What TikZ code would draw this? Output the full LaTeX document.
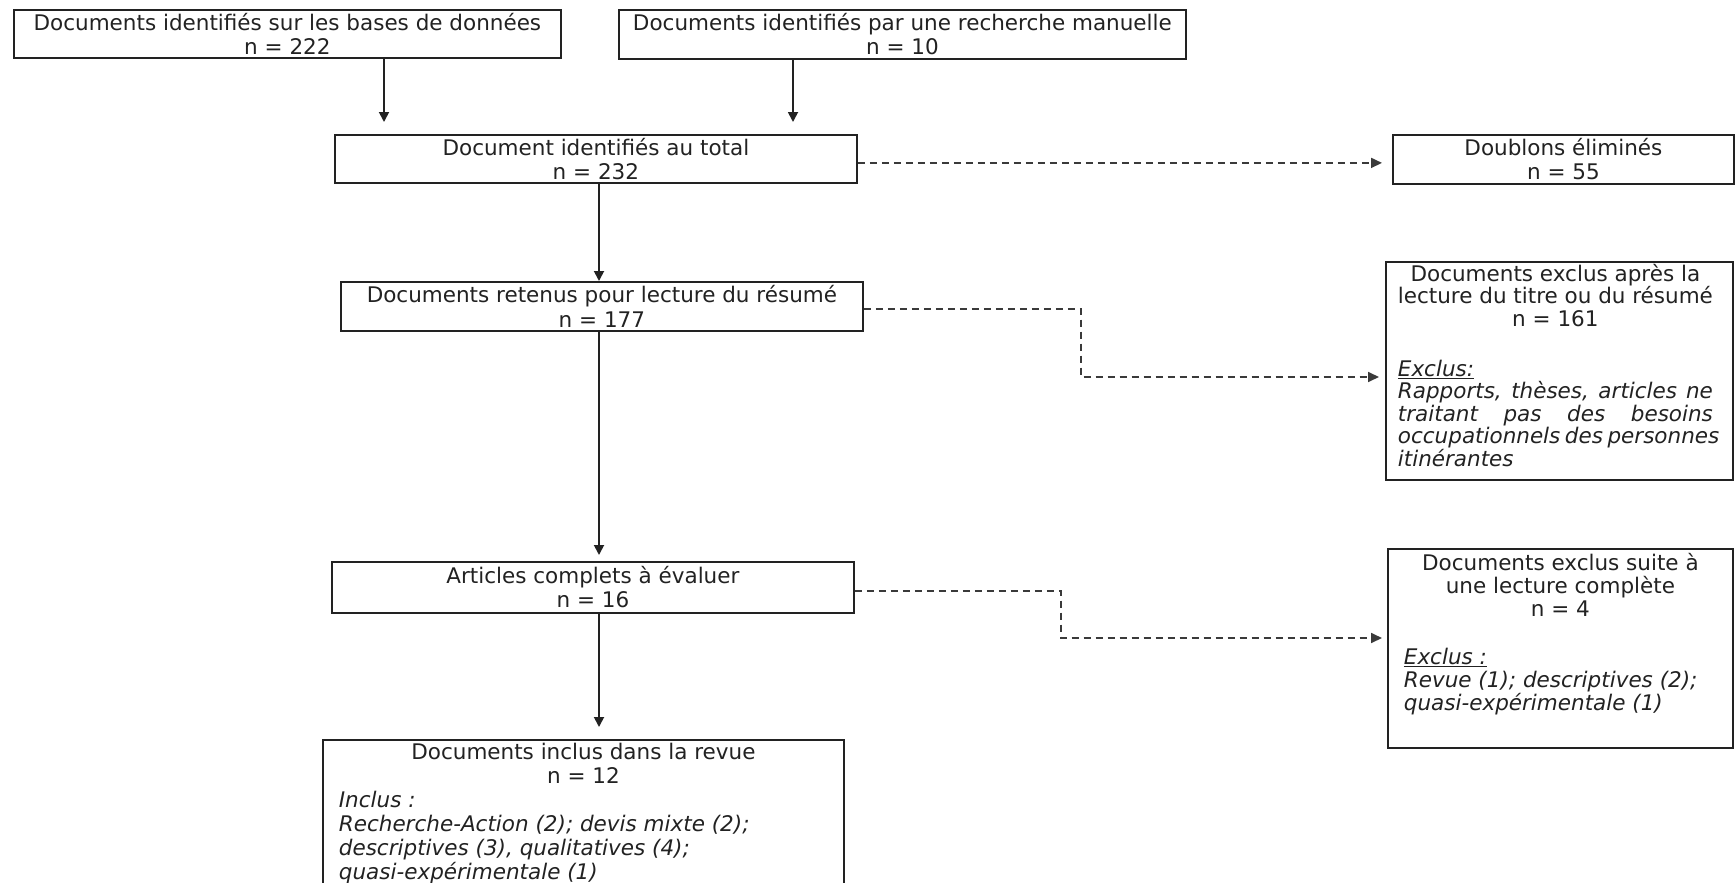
\documentclass[tikz,border=0pt]{standalone}
\usepackage{fontspec}
\setmainfont{DejaVu Sans}
\usetikzlibrary{arrows.meta,calc}
\definecolor{ink}{HTML}{222222}
\definecolor{dashc}{HTML}{3A3A3A}
\tikzset{
  box/.style={draw=ink, line width=1.8pt, rectangle, inner sep=0pt, text=ink, anchor=north west,
              font=\fontsize{21.5pt}{24pt}\selectfont},
  arr/.style={draw=ink, line width=1.8pt, -{Triangle[length=10pt,width=10pt]}},
  darr/.style={draw=dashc, line width=1.7pt, dash pattern=on 7pt off 5pt, -{Triangle[length=11pt,width=10pt]}}
}
\begin{document}
\begin{tikzpicture}[x=1pt,y=-1pt]
\fill[white] (0,0) rectangle (1735,883);
\useasboundingbox (0,0) rectangle (1735,883);

% left column
\node[box] (src1) at (13,9) {\parbox[c][48pt][c]{547pt}{\centering Documents identifiés sur les bases de données\\ n = 222}};
\node[box] (src2) at (618,9) {\parbox[c][49pt][c]{567pt}{\centering Documents identifiés par une recherche manuelle\\ n = 10}};
\node[box] (tot) at (334,134) {\parbox[c][48pt][c]{522pt}{\centering Document identifiés au total\\ n = 232}};
\node[box] (ret) at (340,281) {\parbox[c][49pt][c]{522pt}{\centering\baselineskip=25pt Documents retenus pour lecture du résumé\\ n = 177}};
\node[box] (art) at (331,561) {\parbox[c][51pt][c]{522pt}{\centering Articles complets à évaluer\\ n = 16}};
\node[box] (incl) at (322,739) {\parbox[c][150pt][t]{521pt}{\vspace*{3.2pt}\hspace*{16pt}\parbox[t]{489pt}{\centering Documents inclus dans la revue\\ n = 12\par
  \raggedright\itshape Inclus :\\ Recherche-Action (2); devis mixte (2);\\ descriptives (3), qualitatives (4);\\ quasi-expérimentale (1)}}};

% right column
\node[box] (dbl) at (1392,134) {\parbox[c][49pt][c]{341pt}{\centering Doublons éliminés\\ n = 55}};
\node[box] (ex1) at (1385,261) {\parbox[c][218pt][t]{347pt}{\vspace*{2.3pt}\hspace*{12pt}\parbox[t]{315pt}{\fontsize{21.5pt}{22.5pt}\selectfont
  {\centering Documents exclus après la\\ lecture du titre ou du résumé\\ n = 161\par}
  \vspace{27.5pt}
  \raggedright\itshape\underline{Exclus:}\\
  \makebox[\linewidth][s]{Rapports, thèses, articles ne}\\
  \makebox[\linewidth][s]{traitant pas des besoins}\\
  \makebox[\linewidth][s]{occupationnels des personnes}\\
  itinérantes}}};
\node[box] (ex2) at (1387,548) {\parbox[c][199pt][t]{345pt}{\vspace*{4.3pt}\hspace*{16pt}\parbox[t]{313pt}{\fontsize{21.5pt}{23pt}\selectfont
  {\centering Documents exclus suite à\\ une lecture complète\\ n = 4\par}
  \vspace{25pt}
  \raggedright\itshape\underline{Exclus :}\\
  Revue (1); descriptives (2);\\
  quasi-expérimentale (1)}}};

% connectors
\coordinate (t1) at (384,122);
\coordinate (t2) at (793,122);
\coordinate (sp) at (599,0);
\coordinate (k1) at (1081,377);
\coordinate (k2) at (1061,638);

\draw[arr] (src1.south -| t1) -- (t1);
\draw[arr] (src2.south -| t2) -- (t2);
\draw[arr] (tot.south -| sp) -- (ret.north -| sp);
\draw[arr, shorten >=6pt] (ret.south -| sp) -- (art.north -| sp);
\draw[arr, shorten >=12pt] (art.south -| sp) -- (incl.north -| sp);

\draw[darr, shorten >=10pt] ($(tot.east)+(0,4)$) -- ($(tot.east -| dbl.west)+(0,4)$);
\draw[darr, shorten >=6pt] ($(ret.east)+(0,2.5)$) -| (k1) -- (k1 -| ex1.west);
\draw[darr, shorten >=5pt] ($(art.east)+(0,3.5)$) -| (k2) -- (k2 -| ex2.west);
\end{tikzpicture}
\end{document}
